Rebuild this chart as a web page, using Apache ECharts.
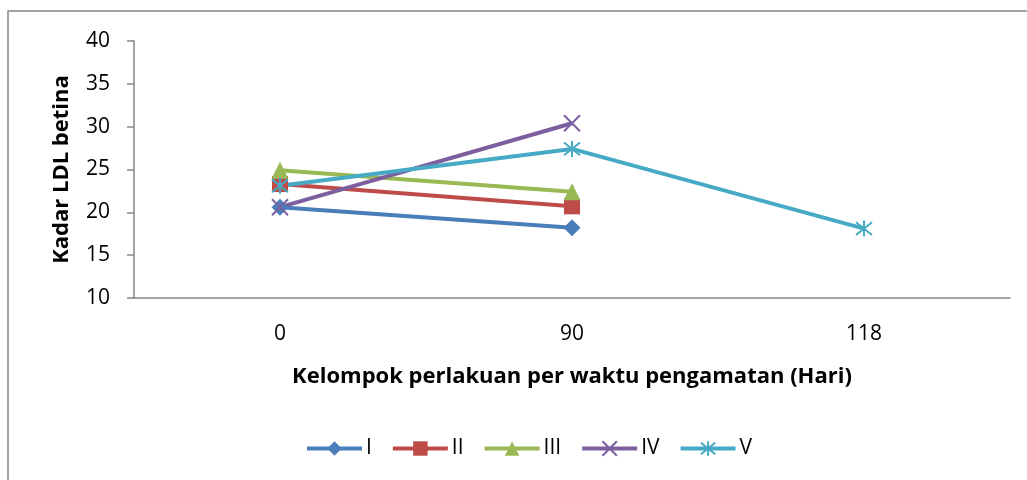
<!DOCTYPE html>
<html>
<head>
<meta charset="utf-8">
<script src="https://cdn.jsdelivr.net/npm/echarts@6/dist/echarts.min.js"></script>
<style>
  html, body { margin: 0; padding: 0; background: #fff; }
  #chart { width: 1027px; height: 480px; }
</style>
</head>
<body>
<div id="chart"></div>
<script>
// Observation days and LDL levels per treatment group
const days = ['0', '90', '118'];
const groupI   = [20.6, 18.2, null];
const groupII  = [23.3, 20.7, null];
const groupIII = [24.9, 22.4, null];
const groupIV  = [20.6, 30.4, null];
const groupV   = [23.1, 27.4, 18.1];

const FONT = '"Open Sans", Lato, sans-serif';
const crossPath = 'path://M0,0L20,20M20,0L0,20';
const starPath = 'path://M10,0L10,20M2,2L18,18M18,2L2,18';

function lineSeries(name, data, color, symbol, size, stroked) {
  return {
    name: name,
    type: 'line',
    data: data,
    symbol: symbol,
    symbolSize: size,
    connectNulls: false,
    lineStyle: { color: color, width: 4 },
    itemStyle: stroked
      ? { color: color, borderColor: color, borderWidth: 2 }
      : { color: color, borderWidth: 0 },
    emphasis: { disabled: true }
  };
}

const chart = echarts.init(document.getElementById('chart'), null, { renderer: 'canvas' });
chart.setOption({
  animation: false,
  backgroundColor: '#fff',
  textStyle: { fontFamily: FONT },
  graphic: [{
    type: 'rect',
    shape: { x: 8, y: 11, width: 1040, height: 500 },
    style: { fill: 'none', stroke: '#868686', lineWidth: 1.5 },
    silent: true
  }],
  grid: { left: 134, right: 17, top: 41, bottom: 182, containLabel: false },
  legend: {
    top: 433,
    left: 300,
    itemWidth: 55,
    itemHeight: 18,
    itemGap: 19,
    lineStyle: { width: 4 },
    textStyle: { fontFamily: FONT, fontSize: 21, color: '#000', padding: [0, 0, 0, -1] },
    data: ['I', 'II', 'III', 'IV', 'V']
  },
  xAxis: {
    type: 'category',
    data: days,
    boundaryGap: true,
    name: 'Kelompok perlakuan per waktu pengamatan (Hari)',
    nameLocation: 'middle',
    nameGap: 68,
    nameTextStyle: { fontFamily: FONT, fontSize: 22, fontWeight: 'bold', color: '#000' },
    axisLine: { lineStyle: { color: '#868686', width: 1.5 } },
    axisTick: { show: false },
    axisLabel: { fontFamily: FONT, fontSize: 21, color: '#000', margin: 26 },
    splitLine: { show: false }
  },
  yAxis: {
    type: 'value',
    min: 10,
    max: 40,
    interval: 5,
    name: 'Kadar LDL betina',
    nameLocation: 'middle',
    nameGap: 61,
    nameTextStyle: { fontFamily: FONT, fontSize: 22, fontWeight: 'bold', color: '#000' },
    axisLine: { show: true, lineStyle: { color: '#868686', width: 1.5 } },
    axisTick: { show: true, length: 7, inside: false, lineStyle: { color: '#868686', width: 1.5 } },
    axisLabel: { fontFamily: FONT, fontSize: 21, color: '#000', margin: 24 },
    splitLine: { show: false }
  },
  series: [
    lineSeries('I', groupI, '#4A7EBB', 'diamond', 17, false),
    lineSeries('II', groupII, '#BE4B48', 'rect', 16, false),
    lineSeries('III', groupIII, '#98B954', 'triangle', 17, false),
    lineSeries('IV', groupIV, '#7D5FA0', crossPath, 16, true),
    lineSeries('V', groupV, '#46AAC5', starPath, 16, true)
  ]
});
</script>
</body>
</html>
